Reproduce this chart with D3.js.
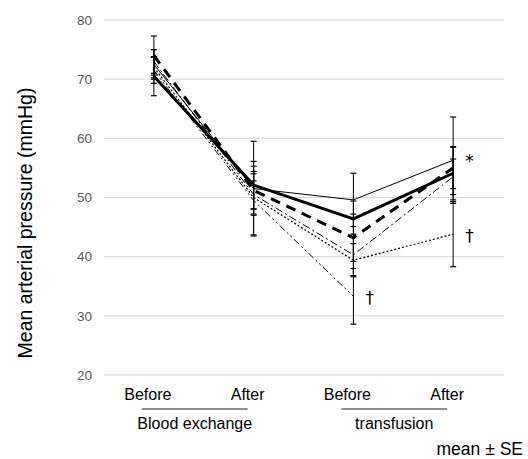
<!DOCTYPE html>
<html>
<head>
<meta charset="utf-8">
<script src="https://cdn.jsdelivr.net/npm/d3@7"></script>
<style>
html,body{margin:0;padding:0;background:#fff;}
svg{display:block;font-family:"Liberation Sans",Arial,sans-serif;}
</style>
</head>
<body>
<svg id="chart" width="528" height="459"></svg>
<script>
const categories = ["B1", "A1", "B2", "A2"];
const categoryLabels = ["Before", "After", "Before", "After"];
const groupLabels = ["Blood exchange", "transfusion"];
const yTicks = [20, 30, 40, 50, 60, 70, 80];

const seriesNames = ["thin", "dashdot", "dotted", "dashdotdot", "thickDashed", "thickSolid"];
const meanThin        = [72.5, 51.5, 49.6, 56.3];
const seThin          = [2.5, 8.0, 4.5, 7.3];
const meanDashDot     = [73.0, 50.5, 40.3, 53.5];
const seDashDot       = [2.0, 3.5, 3.5, 3.0];
const meanDotted      = [72.0, 50.0, 39.4, 43.8];
const seDotted        = [1.8, 2.8, 2.8, 5.5];
const meanDashDotDot  = [71.5, 49.5, 33.3, null];
const seDashDotDot    = [2.2, 5.8, 4.7, null];
const meanThickDashed = [74.0, 51.2, 43.2, 55.0];
const seThickDashed   = [3.3, 3.2, 4.0, 3.5];
const meanThickSolid  = [70.5, 52.1, 46.4, 54.1];
const seThickSolid    = [3.3, 4.0, 3.0, 4.5];

const annotations = [
  {cat: "A2", value: 56.3, text: "*"},
  {cat: "A2", value: 43.8, text: "†"},
  {cat: "B2", value: 33.3, text: "†"}
];

const series = [
  {name: "thin", mean: meanThin, se: seThin, width: 1, dash: null},
  {name: "dashdot", mean: meanDashDot, se: seDashDot, width: 1, dash: "8,3,2,3"},
  {name: "dotted", mean: meanDotted, se: seDotted, width: 1.2, dash: "2,2"},
  {name: "dashdotdot", mean: meanDashDotDot, se: seDashDotDot, width: 1, dash: "7,3,2,3,2,3"},
  {name: "thickDashed", mean: meanThickDashed, se: seThickDashed, width: 3, dash: "10,7"},
  {name: "thickSolid", mean: meanThickSolid, se: seThickSolid, width: 3, dash: null}
];

const svg = d3.select("#chart");
const x = d3.scaleBand().domain(categories).range([104, 503]).padding(0);
const cx = c => x(c) + x.bandwidth() / 2;
const y = d3.scaleLinear().domain([20, 80]).range([375, 20]);

// gridlines
svg.append("g").selectAll("line").data(yTicks).join("line")
  .attr("x1", 104).attr("x2", 504)
  .attr("y1", d => y(d)).attr("y2", d => y(d))
  .attr("stroke", "#d9d9d9").attr("stroke-width", 1);

// y axis tick labels
const yAxis = d3.axisLeft(y).tickValues(yTicks).tickSize(0).tickPadding(0);
const gy = svg.append("g").attr("transform", "translate(92,0)").call(yAxis);
gy.select(".domain").remove();
gy.selectAll("text").attr("font-size", 13.5).attr("fill", "#595959")
  .attr("font-family", "Liberation Sans, Arial, sans-serif");

// y title
svg.append("text")
  .attr("transform", `translate(32,${223}) rotate(-90)`)
  .attr("text-anchor", "middle").attr("font-size", 19.5).attr("fill", "#000")
  .text("Mean arterial pressure (mmHg)");

// error bars
const eg = svg.append("g");
series.forEach(s => {
  categories.forEach((c, i) => {
    if (s.mean[i] == null) return;
    const m = s.mean[i], e = s.se[i];
    const xx = cx(c);
    eg.append("line").attr("x1", xx).attr("x2", xx)
      .attr("y1", y(m + e)).attr("y2", y(m - e))
      .attr("stroke", "#000").attr("stroke-width", 1);
    [m + e, m - e].forEach(v => {
      eg.append("line").attr("x1", xx - 3).attr("x2", xx + 3)
        .attr("y1", y(v)).attr("y2", y(v))
        .attr("stroke", "#000").attr("stroke-width", 1.2);
    });
  });
});

// lines
const line = d3.line()
  .defined(d => d.v != null)
  .x(d => cx(d.c)).y(d => y(d.v));
series.forEach(s => {
  const pts = categories.map((c, i) => ({c, v: s.mean[i]}));
  svg.append("path").datum(pts)
    .attr("d", line)
    .attr("fill", "none").attr("stroke", "#000")
    .attr("stroke-width", s.width)
    .attr("stroke-dasharray", s.dash)
    .attr("stroke-linejoin", "miter");
});

// annotations
svg.append("g").selectAll("text").data(annotations).join("text")
  .attr("x", d => cx(d.cat) + 12)
  .attr("y", d => y(d.value) + (d.text === "*" ? 7 : 8))
  .attr("font-size", d => d.text === "*" ? 17 : 17)
  .attr("font-family", "DejaVu Sans, sans-serif")
  .attr("fill", "#000")
  .style("fill", "#000")
  .text(d => d.text);

// category labels
svg.append("g").selectAll("text").data(categories).join("text")
  .attr("x", d => cx(d) - 6).attr("y", 400)
  .attr("text-anchor", "middle").attr("font-size", 16).attr("fill", "#000")
  .text((d, i) => categoryLabels[i]);

// group underlines and labels
const groups = [[categories[0], categories[1]], [categories[2], categories[3]]];
groups.forEach((g, i) => {
  const x1 = cx(g[0]) - 12, x2 = cx(g[1]) - 6;
  svg.append("line").attr("x1", x1).attr("x2", x2)
    .attr("y1", 409).attr("y2", 409)
    .attr("stroke", "#222").attr("stroke-width", 1.2);
  svg.append("text").attr("x", (x1 + x2) / 2).attr("y", 429)
    .attr("text-anchor", "middle").attr("font-size", 16).attr("fill", "#000")
    .text(groupLabels[i]);
});

svg.append("text").attr("x", 523).attr("y", 455)
  .attr("text-anchor", "end").attr("font-size", 17.5).attr("fill", "#000")
  .text("mean ± SE");
</script>
</body>
</html>
